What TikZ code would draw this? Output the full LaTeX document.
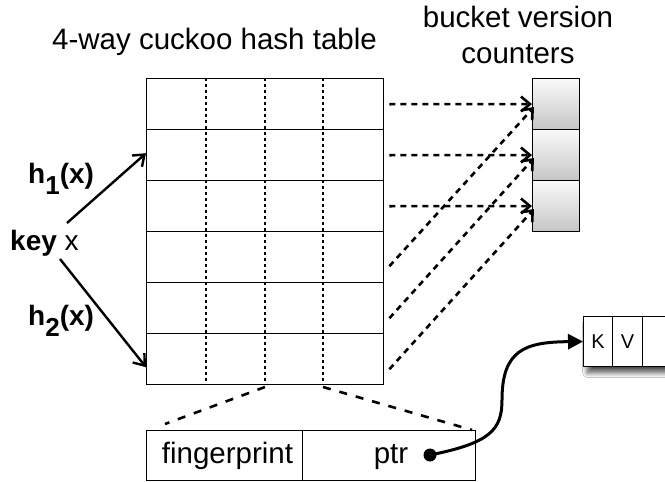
\documentclass[tikz,border=0pt]{standalone}
\usepackage{fontspec}
\setmainfont{Liberation Sans}
\usetikzlibrary{arrows.meta,calc,shadows.blur}

\begin{document}
\begin{tikzpicture}[x=1pt,y=-1pt,
  lbl/.style={font=\fontsize{29.5}{34}\selectfont, inner sep=0pt, anchor=base},
  boldlbl/.style={font=\bfseries\fontsize{28}{32}\selectfont, inner sep=0pt, anchor=base west},
  row/.style={draw, line width=1.4pt, minimum width=237pt, minimum height=51pt,
    inner sep=0pt, anchor=north west},
  counter/.style={draw, line width=1.1pt, minimum width=47pt, minimum height=51pt,
    inner sep=0pt, anchor=north west, top color=gray!4, bottom color=gray!45},
  slotline/.style={line width=1.2pt, dash pattern=on 3pt off 3pt},
  vlink/.style={line width=2.6pt, dash pattern=on 6pt off 5pt,
    -{Straight Barb[length=9pt,width=15pt,line width=2.6pt]}},
  zoomline/.style={line width=2.6pt, dash pattern=on 8pt off 9pt},
  harrow/.style={line width=2.4pt, -{Straight Barb[length=10pt,width=15pt,line width=2.4pt]}},
  field/.style={draw, line width=1.1pt, minimum height=50pt, inner sep=0pt, anchor=north west},
  kvcell/.style={draw, line width=1.1pt, minimum height=50pt, inner sep=0pt, anchor=north west,
    font=\fontsize{20}{24}\selectfont},
]
\clip (0,0) rectangle (665,482);
\fill[white] (0,0) rectangle (665,482);

% titles
\node[lbl] (ttl) at (214.5,49) {4-way cuckoo hash table};
\node[lbl] (ctl1) at (518,27) {bucket version};
\node[lbl] (ctl2) at (518,63) {counters};

% hash table: six buckets, four slots each
\foreach \i in {1,...,6}
  \node[row] (r\i) at (146,{78+51*(\i-1)}) {};
\foreach \xx in {206,265,323}
  \draw[slotline] (\xx,78) -- (\xx,384);

% version counters
\foreach \i in {1,2,3}
  \node[counter] (c\i) at (532,{78+51*(\i-1)}) {};

% buckets mapped to counters
\foreach \i in {1,2,3}
  \draw[vlink] ($(r\i.east)+(5,0)$) -- (c\i.west);
\draw[vlink] ($(r4.east)+(5,9)$) -- ($(c1.west)+(2,3)$);
\draw[vlink] ($(r5.east)+(5,10)$) -- ($(c2.west)+(2,3)$);
\draw[vlink] ($(r6.east)+(5,10)$) -- ($(c3.west)+(2,3)$);

% key and its two hash functions
\node[boldlbl] (key) at (10,250) {key \mdseries x};
\node[boldlbl] (h1) at (28,183) {h\raisebox{-11pt}{\fontsize{26}{28}\selectfont 1}(x)};
\node[boldlbl] (h2) at (28,325) {h\raisebox{-11pt}{\fontsize{26}{28}\selectfont 2}(x)};
\coordinate (s1) at (67,223);
\coordinate (s2) at (60,259);
\draw[harrow] (s1) -- ($(r2.west)+(0,-2)$);
\draw[harrow] (s2) -- ($(r6.west)+(0,8)$);

% slot layout
\node[field, minimum width=156pt] (fp) at (146,430) {};
\node[field, minimum width=173pt] (pt) at (302,430) {};
\node[lbl] (fpt) at (227.5,463) {fingerprint};
\node[lbl] (ptt) at (391,463) {ptr};
\coordinate (e1) at (265,387);
\coordinate (e2) at (165,424);
\coordinate (e3) at (323,387);
\coordinate (e4) at (472,430);
\draw[zoomline] (e1) -- (e2);
\draw[zoomline] (e3) -- (e4);

% key-value object
\node[draw, line width=1.1pt, fill=white, minimum width=130pt, minimum height=50pt,
  inner sep=0pt, anchor=north west,
  blur shadow={shadow xshift=4pt, shadow yshift=-6pt, shadow blur steps=10,
    shadow blur radius=5pt, shadow opacity=70}]
  (kv) at (583,316) {};
\node[kvcell, minimum width=29pt] (kk) at (583,316) {K};
\node[kvcell, minimum width=30pt] (vv) at (612,316) {V};

% pointer
\node[circle, fill, inner sep=0pt, minimum size=13pt] (dot) at (430,455) {};
\draw[line width=3pt, -{Triangle[length=15pt,width=15pt]}]
  (dot.center) .. controls (490,443) and (502,430) .. (502,400)
  .. controls (502,350) and (525,342) .. (kv.west);
\end{tikzpicture}
\end{document}
